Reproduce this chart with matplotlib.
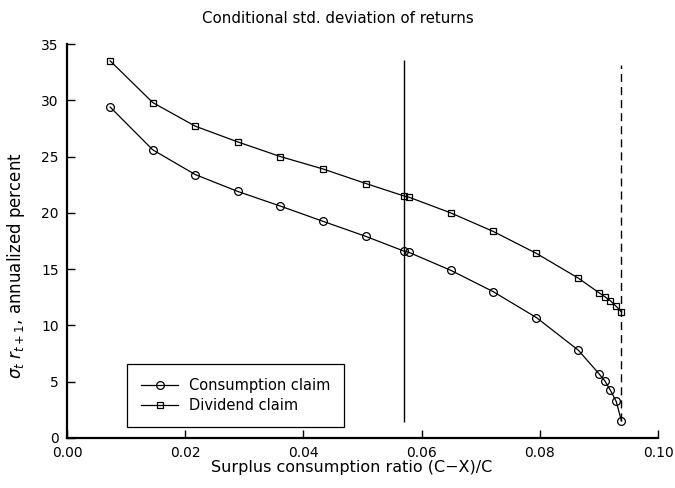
import matplotlib
matplotlib.use("Agg")
import matplotlib.pyplot as plt
from matplotlib.lines import Line2D
from matplotlib.legend_handler import HandlerLine2D

# surplus consumption ratio grid and conditional std. deviation (annualized %)
surplus = [0.0073, 0.0145, 0.0217, 0.0289, 0.0361, 0.0433, 0.0506, 0.0570, 0.0578,
           0.0649, 0.0721, 0.0794, 0.0865, 0.0900, 0.0910, 0.0919, 0.0929, 0.0938]
consumption = [29.4, 25.6, 23.4, 21.9, 20.6, 19.25, 17.9, 16.6, 16.5,
               14.9, 13.0, 10.7, 7.8, 5.7, 5.06, 4.26, 3.26, 1.51]
dividend = [33.5, 29.8, 27.7, 26.3, 25.0, 23.9, 22.6, 21.5, 21.4,
            20.0, 18.35, 16.4, 14.2, 12.9, 12.55, 12.2, 11.7, 11.2]

# steady state and maximum surplus ratio
s_bar = 0.0570
s_max = 0.0938
s_bar_span = [1.45, 33.6]
s_max_span = [1.5, 33.1]

xticks = [0.00, 0.02, 0.04, 0.06, 0.08, 0.10]
yticks = [0, 5, 10, 15, 20, 25, 30, 35]


class MarkerAtStart(HandlerLine2D):
    # legend entry with the symbol on the left end of the line
    def get_xdata(self, legend, xdescent, ydescent, width, height, fontsize):
        xdata, _ = super().get_xdata(legend, xdescent, ydescent, width, height, fontsize)
        return xdata, xdata[:1]


plt.rcParams['font.size'] = 10

fig = plt.figure(figsize=(6.75, 4.88), dpi=100)
ax = fig.add_axes([0.0993, 0.1025, 0.8757, 0.8073])

l1, = ax.plot(surplus, consumption, color="black", lw=0.9, marker="o", ms=5.6,
              mfc="none", mec="black", mew=0.9)
l2, = ax.plot(surplus, dividend, color="black", lw=0.9, marker="s", ms=5.0,
              mfc="none", mec="black", mew=0.9)

ax.vlines(s_bar, s_bar_span[0], s_bar_span[1], color="black", lw=1.0)
ax.vlines(s_max, s_max_span[0], s_max_span[1], color="black", lw=1.0,
          linestyles=[(0, (5.8, 3.6))])

ax.set_xlim(0, 0.10)
ax.set_ylim(0, 35)
ax.set_xticks(xticks)
ax.set_xticklabels(["%.2f" % t for t in xticks])
ax.set_yticks(yticks)
ax.tick_params(direction="in", length=6, width=1, pad=6, color="black")

for side in ["top", "right"]:
    ax.spines[side].set_visible(False)
for side in ["left", "bottom"]:
    ax.spines[side].set_linewidth(1.6)

ax.set_title("Conditional std. deviation of returns", x=0.4577, pad=15, fontsize=10.8)
ax.set_xlabel("Surplus consumption ratio (C\u2212X)/C", fontsize=11.5)
ax.xaxis.set_label_coords(0.482, -0.056)
ax.set_ylabel(r"$\sigma_t\ r_{t+1}$, annualized percent", fontsize=12)
ax.yaxis.set_label_coords(-0.068, 0.437)

leg = ax.legend([l1, l2], ["Consumption claim", "Dividend claim"],
                handler_map={Line2D: MarkerAtStart(numpoints=1)},
                loc="lower left", bbox_to_anchor=(0.101, 0.0287),
                borderaxespad=0, handlelength=2.6, fontsize=10.5,
                handletextpad=0.7, borderpad=0.95, labelspacing=0.35,
                fancybox=False, edgecolor="black", framealpha=1)
leg.get_frame().set_linewidth(0.9)

fig.savefig("out.png", dpi=100)
